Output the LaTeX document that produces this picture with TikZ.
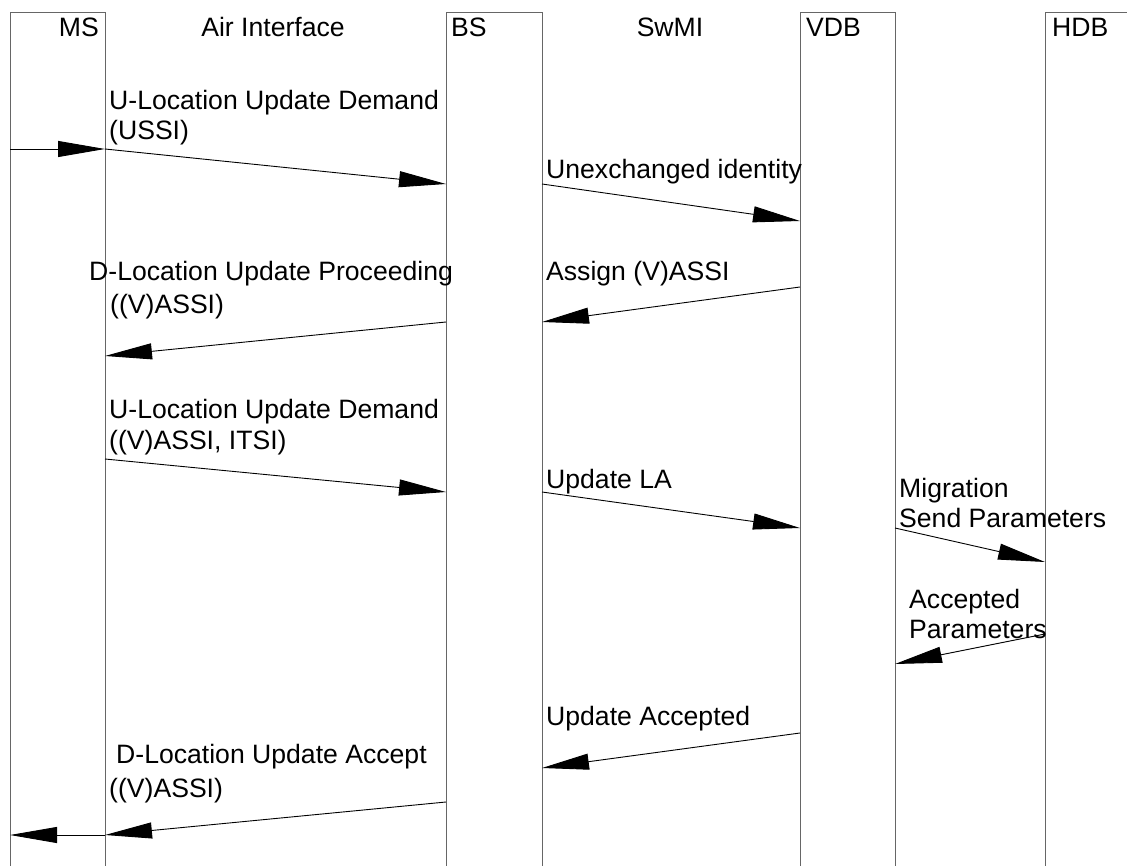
\documentclass[tikz,border=0pt]{standalone}
\usepackage{fontspec}
\setmainfont{Liberation Sans}
\usetikzlibrary{arrows.meta}
\begin{document}
\begin{tikzpicture}[x=1pt,y=-1pt,
  life/.style={draw=black!60, line width=1pt},
  msg/.style={draw=black, line width=0.9pt, -{Triangle[length=47pt,width=16pt]}},
  lbl/.style={inner sep=0pt, anchor=base west, font=\fontsize{26.6}{30}\selectfont},
  hdr/.style={inner sep=0pt, anchor=base, font=\fontsize{26.6}{30}\selectfont}]
\useasboundingbox (0,0) rectangle (1127,866);
% lifeline boxes
\draw[life] (10,900) -- (10,13) -- (105,13) -- (105,900);
\draw[life] (446,900) -- (446,13) -- (542,13) -- (542,900);
\draw[life] (800,900) -- (800,13) -- (895,13) -- (895,900);
\draw[life] (1045,900) -- (1045,13) -- (1160,13);
% headers
\node[hdr, anchor=base east] (hms) at (99,37) {MS};
\node[hdr] (hair) at (273,37) {Air Interface};
\node[hdr, anchor=base west] (hbs) at (451,37) {BS};
\node[hdr] (hswmi) at (670,37) {SwMI};
\node[hdr, anchor=base west] (hvdb) at (806,37) {VDB};
\node[hdr, anchor=base west] (hhdb) at (1052,37) {HDB};
% message end points
\coordinate (p0) at (10,149);   \coordinate (p1) at (105,149);  \coordinate (p2) at (446,184);
\coordinate (p3) at (542,184);  \coordinate (p4) at (800,221);
\coordinate (p5) at (800,287);  \coordinate (p6) at (542,322);
\coordinate (p7) at (446,322);  \coordinate (p8) at (105,356);
\coordinate (p9) at (105,459);  \coordinate (p10) at (446,492);
\coordinate (p11) at (542,492); \coordinate (p12) at (800,528);
\coordinate (p13) at (895,528); \coordinate (p14) at (1045,562);
\coordinate (p15) at (1045,634);\coordinate (p16) at (895,664);
\coordinate (p17) at (800,733); \coordinate (p18) at (542,768);
\coordinate (p19) at (446,802); \coordinate (p20) at (105,835);
\coordinate (p21) at (10,835);
% messages
\draw[msg] (p0) -- (p1);
\draw[msg] (p1) -- (p2);
\draw[msg] (p3) -- (p4);
\draw[msg] (p5) -- (p6);
\draw[msg] (p7) -- (p8);
\draw[msg] (p9) -- (p10);
\draw[msg] (p11) -- (p12);
\draw[msg] (p13) -- (p14);
\draw[msg] (p15) -- (p16);
\draw[msg] (p17) -- (p18);
\draw[msg] (p19) -- (p20);
\draw[msg] (p20) -- (p21);
% labels
\node[lbl] (l1a) at (109,110) {U-Location Update Demand};
\node[lbl] (l1b) at (109,140) {(USSI)};
\node[lbl] (l2) at (546,179) {Unexchanged identity};
\node[lbl] (l3) at (546,281) {Assign (V)ASSI};
\node[lbl] (l4a) at (89,281) {D-Location Update Proceeding};
\node[lbl] (l4b) at (110,314) {((V)ASSI)};
\node[lbl] (l5a) at (109,418) {U-Location Update Demand};
\node[lbl] (l5b) at (109,449) {((V)ASSI, ITSI)};
\node[lbl] (l6) at (546,488) {Update LA};
\node[lbl] (l7a) at (899,497) {Migration};
\node[lbl] (l7b) at (899,527) {Send Parameters};
\node[lbl] (l8a) at (909,608) {Accepted};
\node[lbl] (l8b) at (909,638) {Parameters};
\node[lbl] (l9) at (546,725) {Update Accepted};
\node[lbl] (l10a) at (116,763) {D-Location Update Accept};
\node[lbl] (l10b) at (109,797) {((V)ASSI)};
\end{tikzpicture}
\end{document}
